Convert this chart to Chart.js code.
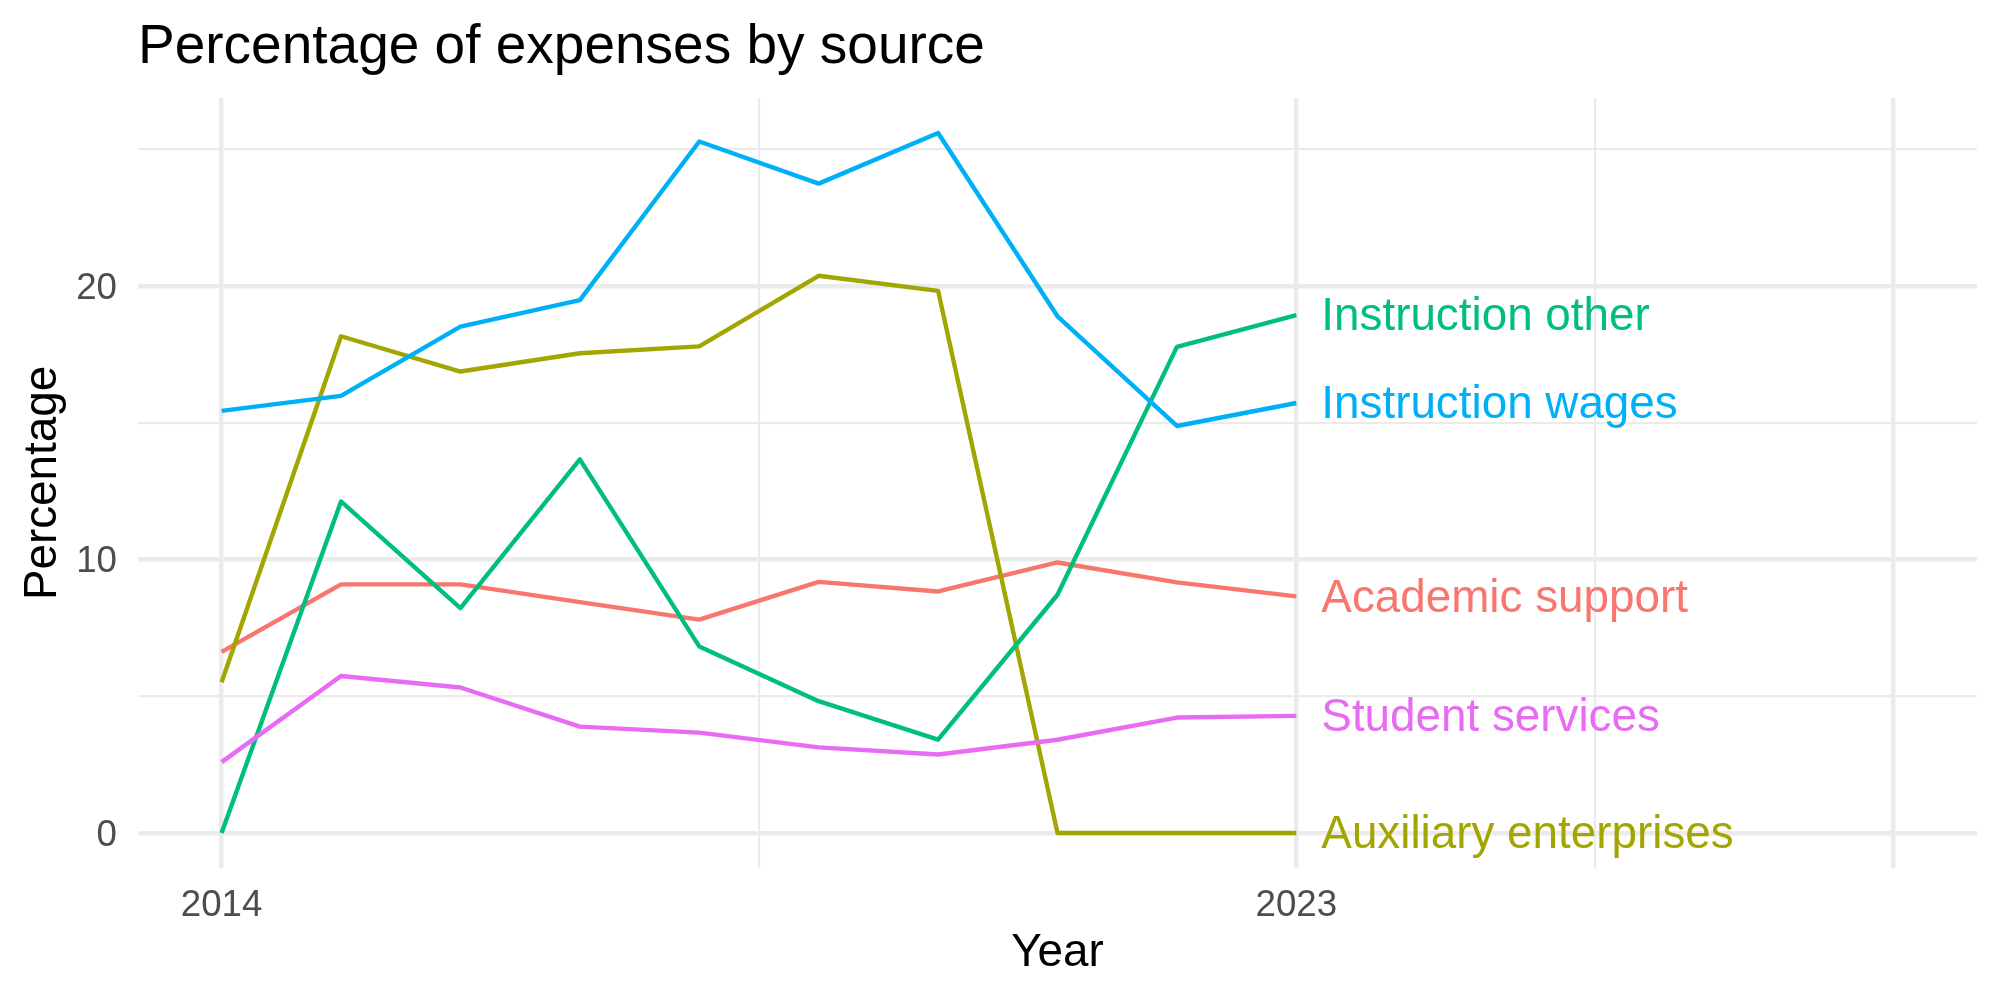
<!DOCTYPE html>
<html><head><meta charset="utf-8">
<script src="https://cdn.jsdelivr.net/npm/chart.js@4"></script>
<style>html,body{margin:0;padding:0;background:#fff}#wrap{width:2000px;height:1000px}</style>
</head><body><div id="wrap"><canvas id="c" width="2000" height="1000"></canvas></div>
<script>
const years = [2014,2015,2016,2017,2018,2019,2020,2021,2022,2023];
const seriesNames = ['Academic support','Auxiliary enterprises','Instruction other','Instruction wages','Student services'];
const academicSupport = [6.62,9.09,9.09,8.44,7.80,9.18,8.83,9.89,9.16,8.65];
const auxiliaryEnterprises = [5.51,18.16,16.87,17.54,17.79,20.37,19.82,0,0,0];
const instructionOther = [0,12.12,8.22,13.66,6.82,4.82,3.41,8.71,17.77,18.93];
const instructionWages = [15.43,15.98,18.51,19.48,25.28,23.74,25.59,18.89,14.88,15.72];
const studentServices = [2.59,5.74,5.32,3.89,3.67,3.13,2.87,3.41,4.22,4.28];
const xTickValues = [2014,2018.5,2023,2025.5,2028];
const xTickLabels = ['2014','','2023','',''];
const xMajor = [2014,2023,2028];
const yTickValues = [0,5,10,15,20,25];
const yTickLabels = ['0','','10','','20',''];
const yMajor = [0,10,20];
const colors = ['#F8766D','#A3A500','#00BF7D','#00B0F6','#E76BF3'];

const FONT = '"Liberation Sans", Arial, Helvetica, sans-serif';
const allSeries = [academicSupport, auxiliaryEnterprises, instructionOther, instructionWages, studentServices];

const datasets = allSeries.map((vals, i) => ({
  label: seriesNames[i],
  data: years.map((y, j) => ({x: y, y: vals[j]})),
  borderColor: colors[i],
  backgroundColor: colors[i],
  borderWidth: 4.4,
  pointRadius: 0,
  tension: 0,
  borderJoinStyle: 'round',
  borderCapStyle: 'butt',
  fill: false,
  order: allSeries.length - i
}));

const endLabels = {
  id: 'endLabels',
  afterDatasetsDraw(chart) {
    const ctx = chart.ctx;
    ctx.save();
    ctx.font = '45.8px ' + FONT;
    ctx.textBaseline = 'middle';
    ctx.textAlign = 'left';
    chart.data.datasets.forEach((ds, i) => {
      const meta = chart.getDatasetMeta(i);
      const pt = meta.data[meta.data.length - 1];
      ctx.fillStyle = ds.borderColor;
      ctx.fillText(ds.label, pt.x + 25, pt.y + 2.5);
    });
    ctx.restore();
  }
};

new Chart(document.getElementById('c'), {
  type: 'line',
  data: { datasets },
  plugins: [endLabels],
  options: {
    responsive: false,
    devicePixelRatio: 1,
    animation: false,
    layout: { padding: { left: 0, right: 23, top: 0, bottom: 0 } },
    plugins: {
      legend: { display: false },
      tooltip: { enabled: false },
      title: {
        display: true,
        text: 'Percentage of expenses by source',
        align: 'start',
        fullSize: false,
        color: '#000000',
        font: { family: FONT, size: 55, weight: 'normal' },
        padding: { top: 15, bottom: 17 }
      }
    },
    scales: {
      x: {
        type: 'linear',
        min: 2013.3,
        max: 2028.7,
        afterBuildTicks: s => { s.ticks = xTickValues.map(v => ({ value: v })); },
        afterFit: s => { s.height = 132; },
        ticks: {
          autoSkip: false,
          maxRotation: 0,
          padding: 15.5,
          color: '#4D4D4D',
          font: { family: FONT, size: 36.7 },
          callback: (v) => { const k = xTickValues.indexOf(v); return k >= 0 ? xTickLabels[k] : ''; }
        },
        grid: {
          color: '#EBEBEB',
          drawTicks: false,
          lineWidth: c => (c.tick && xMajor.includes(c.tick.value)) ? 4.4 : 2.2
        },
        border: { display: false },
        title: {
          display: true,
          text: 'Year',
          color: '#000000',
          font: { family: FONT, size: 45.8 },
          padding: { top: 0, bottom: 19 }
        }
      },
      y: {
        type: 'linear',
        min: -1.28,
        max: 26.87,
        afterBuildTicks: s => { s.ticks = yTickValues.map(v => ({ value: v })); },
        afterFit: s => { s.width = 138; },
        ticks: {
          autoSkip: false,
          padding: 21,
          labelOffset: 2.5,
          color: '#4D4D4D',
          font: { family: FONT, size: 36.7 },
          callback: (v) => { const k = yTickValues.indexOf(v); return k >= 0 ? yTickLabels[k] : ''; }
        },
        grid: {
          color: '#EBEBEB',
          drawTicks: false,
          lineWidth: c => (c.tick && yMajor.includes(c.tick.value)) ? 4.4 : 2.2
        },
        border: { display: false },
        title: {
          display: true,
          text: 'Percentage',
          color: '#000000',
          font: { family: FONT, size: 45.8 },
          padding: { top: 15.5, bottom: 0 }
        }
      }
    }
  }
});
</script>
</body></html>
